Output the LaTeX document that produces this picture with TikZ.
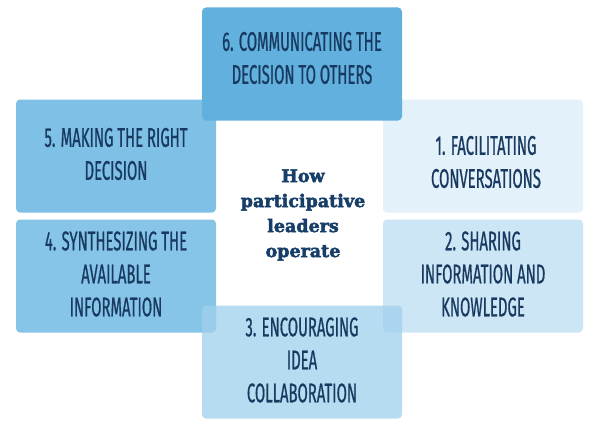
\documentclass[tikz,border=0pt]{standalone}
\usepackage{fontspec}
\newfontfamily\condfont[FakeStretch=0.55,FakeBold=0.6]{Fira Sans}
\newfontfamily\slabfont[BoldFeatures={FakeBold=2.6}]{DejaVu Serif}
\definecolor{txt}{RGB}{24,58,96}
\definecolor{ttl}{RGB}{22,62,104}
\definecolor{cA}{RGB}{227,241,250}
\definecolor{cB}{RGB}{205,230,245}
\definecolor{cC}{RGB}{160,208,236}
\definecolor{cD}{RGB}{135,197,232}
\definecolor{cE}{RGB}{126,192,230}
\definecolor{cF}{RGB}{98,176,222}
\tikzset{
  stepbox/.style={rounded corners=4pt, minimum width=200pt, minimum height=113pt,
    inner sep=0pt},
  boxtext/.style={align=center, text=txt, inner sep=0pt, font=\condfont\fontsize{27}{33}\selectfont},
  titletext/.style={align=center, text=ttl, font=\slabfont\bfseries\fontsize{17.5}{25}\selectfont}
}
\begin{document}
\begin{tikzpicture}[x=1pt,y=1pt]
\useasboundingbox[fill=white] (0,0) rectangle (602,-428);
\node[stepbox, fill=cA] (b1) at (483,-156) {};
\node[stepbox, fill=cB] (b2) at (483,-276) {};
\node[stepbox, fill=cD] (b4) at (116,-276) {};
\node[stepbox, fill=cE] (b5) at (116,-156) {};
\node[stepbox, fill=cC, fill opacity=0.75] (b3) at (302,-362) {};
\node[stepbox, fill=cF] (b6) at (302,-64) {};
\node[boxtext] (t1) at ([xshift=3pt,yshift=-6pt]b1.center) {1. FACILITATING\\CONVERSATIONS};
\node[boxtext] (t2) at ([yshift=2pt]b2.center) {2. SHARING\\INFORMATION AND\\KNOWLEDGE};
\node[boxtext] (t4) at ([yshift=2pt]b4.center) {4. SYNTHESIZING THE\\AVAILABLE\\INFORMATION};
\node[boxtext] (t5) at ([yshift=2pt]b5.center) {5. MAKING THE RIGHT\\DECISION};
\node[boxtext] (t3) at ([yshift=2pt]b3.center) {3. ENCOURAGING\\IDEA\\COLLABORATION};
\node[boxtext] (t6) at ([yshift=6pt]b6.center) {6. COMMUNICATING THE\\DECISION TO OTHERS};
\node[titletext] (t) at (303,-215) {How\\participative\\leaders\\operate};
\end{tikzpicture}
\end{document}
